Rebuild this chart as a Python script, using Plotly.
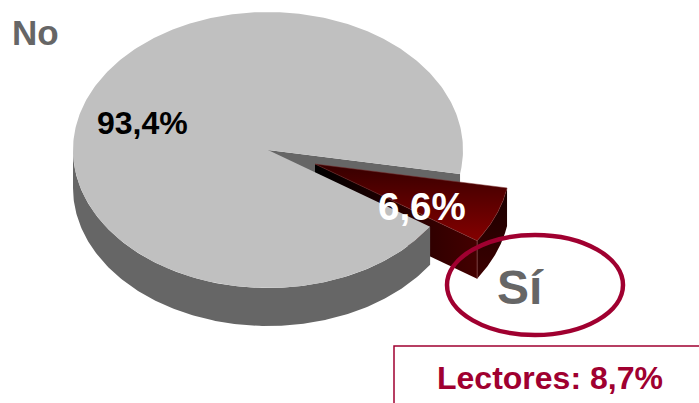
import numpy as np
import plotly.graph_objects as go

labels = ["No", "Sí"]
shares = [93.4, 6.6]
note_label = "Lectores"
note_value = 8.7

W, H = 699, 403
CX, CY, RX, RY, DEPTH = 268, 150, 195, 138, 38
EXPLODE = (47, 14)
START = 10.0

def fmt(v):
    return f"{v:.1f}%".replace(".", ",")

sweep = shares[1] / sum(shares) * 360
a0, a1 = START, START + sweep

def arc(d0, d1, cx=CX, cy=CY, n=180):
    t = np.radians(np.linspace(d0, d1, n))
    return cx + RX * np.cos(t), cy + RY * np.sin(t)

def poly(x, y, color=None, gradient=None, line=None, width=0):
    kw = dict(fillgradient=gradient) if gradient else dict(fillcolor=color)
    return go.Scatter(x=list(x), y=list(y), mode="lines", fill="toself",
                      line=dict(color=line or "rgba(0,0,0,0)", width=width),
                      hoverinfo="skip", showlegend=False, **kw)

def grad(kind, c0, c1, start, stop):
    return dict(type=kind, colorscale=[[0, c0], [1, c1]], start=start, stop=stop)

fig = go.Figure()
GRAY_TOP, GRAY_SIDE = "#C0C0C0", "#666666"

# back wall of the notch in the large slice
ex, ey = arc(a0, a0, n=1)
fig.add_trace(poly([CX, ex[0], ex[0], CX], [CY, ey[0], ey[0] + DEPTH, CY + DEPTH], GRAY_SIDE))

# exploded slice
sx, sy = CX + EXPLODE[0], CY + EXPLODE[1]
ax, ay = arc(a0, a1, sx, sy)
# outer wall
fig.add_trace(poly(np.r_[ax, ax[::-1]], np.r_[ay, ay[::-1] + DEPTH], gradient=grad("vertical", "#1c0000", "#3e0000", sy + 30, sy + 120)))
# cut wall
fig.add_trace(poly([sx, ax[-1], ax[-1], sx], [sy, ay[-1], ay[-1] + DEPTH, sy + DEPTH],
                   gradient=grad("horizontal", "#000000", "#440000", sx, ax[-1])))
# edge between the walls
fig.add_trace(go.Scatter(x=[ax[-1], ax[-1]], y=[ay[-1], ay[-1] + DEPTH], mode="lines",
                         line=dict(color="#8a4a4a", width=0.7), hoverinfo="skip", showlegend=False))
# top
fig.add_trace(poly(np.r_[sx, ax, sx], np.r_[sy, ay, sy],
                   gradient=grad("vertical", "#360000", "#840000", sy, ay[-1]),
                   line="#7a3030", width=0.5))

# large slice side wall and top
bx, by = arc(a1, 180)
fig.add_trace(poly(np.r_[bx, bx[::-1]], np.r_[by, by[::-1] + DEPTH], GRAY_SIDE))
tx, ty = arc(a1, a0 + 360, n=360)
fig.add_trace(poly(np.r_[CX, tx, CX], np.r_[CY, ty, CY], GRAY_TOP))

RED = "#A00030"
fig.add_shape(type="circle", x0=447, x1=623, y0=235, y1=335, line=dict(color=RED, width=4.5))
fig.add_shape(type="rect", x0=394, x1=720, y0=346, y1=430, line=dict(color=RED, width=1.5))

FONT = "Liberation Sans"
def text(s, x, y, size, color):
    fig.add_annotation(x=x, y=y, text=f"<b>{s}</b>", showarrow=False, xanchor="center", yanchor="middle",
                       font=dict(family=FONT, size=size, color=color))

text(labels[0], 35, 32, 35, "#666666")
text(fmt(shares[0]), 142, 123, 32, "#000000")
text(fmt(shares[1]), 421.5, 206, 38.5, "#FFFFFF")
text(labels[1], 520.5, 287, 48, "#666666")
text(f"{note_label}: {fmt(note_value)}", 550, 378, 32, RED)

fig.update_layout(width=W, height=H, margin=dict(l=0, r=0, t=0, b=0), paper_bgcolor="white", plot_bgcolor="white",
                  xaxis=dict(range=[0, W], visible=False, fixedrange=True),
                  yaxis=dict(range=[H, 0], visible=False, fixedrange=True), showlegend=False)
fig.write_html("out.html", config=dict(displayModeBar=False),
               post_script="document.body.style.margin='0';document.body.style.overflow='hidden';")
